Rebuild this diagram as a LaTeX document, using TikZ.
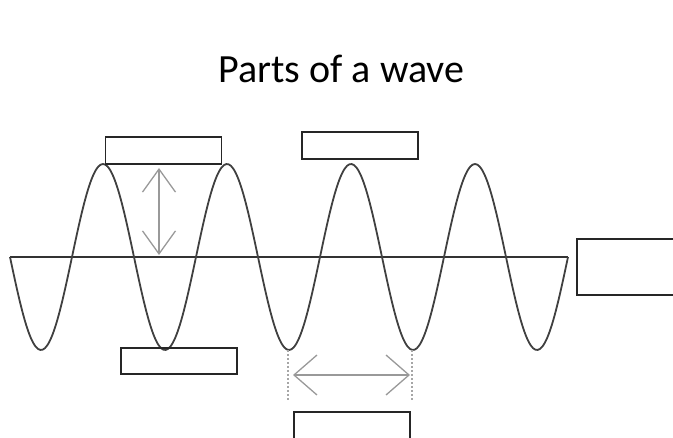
\documentclass[tikz,border=0pt]{standalone}
\usepackage{fontspec}
\setmainfont{Carlito}
\usetikzlibrary{arrows.meta}

\begin{document}
\begin{tikzpicture}[x=1pt, y=-1pt,
  box/.style={draw=black!85, line width=1.4pt, inner sep=0pt, outer sep=0pt,
              minimum width=116pt, minimum height=27pt},
  arr/.style={{Straight Barb[length=23pt, width=40pt]}-{Straight Barb[length=23pt, width=40pt]},
              draw=black!40, line width=1.3pt},
  guide/.style={draw=black!35, line width=2pt, dotted}
]
  \clip (0,0) rectangle (673,438);

  % title
  \node[anchor=base, font=\fontsize{40}{48}\selectfont] (title) at (341.5,83) {Parts of a wave};

  % axis and wave
  \coordinate (axisL) at (10,257);
  \coordinate (axisR) at (568,257);
  \draw[black!80, line width=2.2pt] (axisL) -- (axisR);
  \draw[black!75, line width=1.8pt] plot[domain=0:558, samples=241, smooth]
    ({10+\x}, {257+93*sin(\x/124*360)});

  % label boxes
  \node[box] (crest)  at (163.5,150.5) {};
  \node[box] (peak)   at (360,145.5)   {};
  \node[box, minimum width=120pt, minimum height=56pt] (rest) at (637,267) {};
  \node[box, minimum height=26pt] (trough) at (179,361) {};
  \node[box, minimum height=40pt] (wlen)   at (352,432) {};

  % amplitude
  \coordinate (amptop) at (159,168);
  \coordinate (ampbot) at (159,255);
  \draw[arr, {Straight Barb[length=23pt, width=33pt]}-{Straight Barb[length=23pt, width=33pt]}]
    (amptop) -- (ampbot);

  % wavelength
  \coordinate (wlA)  at (288,350);
  \coordinate (wlB)  at (412,350);
  \coordinate (wlAd) at (288,401);
  \coordinate (wlBd) at (412,401);
  \draw[guide] (wlA) -- (wlAd);
  \draw[guide] (wlB) -- (wlBd);
  \coordinate (wltail) at (293,375);
  \coordinate (wlhead) at (410,375);
  \draw[arr] (wltail) -- (wlhead);
\end{tikzpicture}
\end{document}
